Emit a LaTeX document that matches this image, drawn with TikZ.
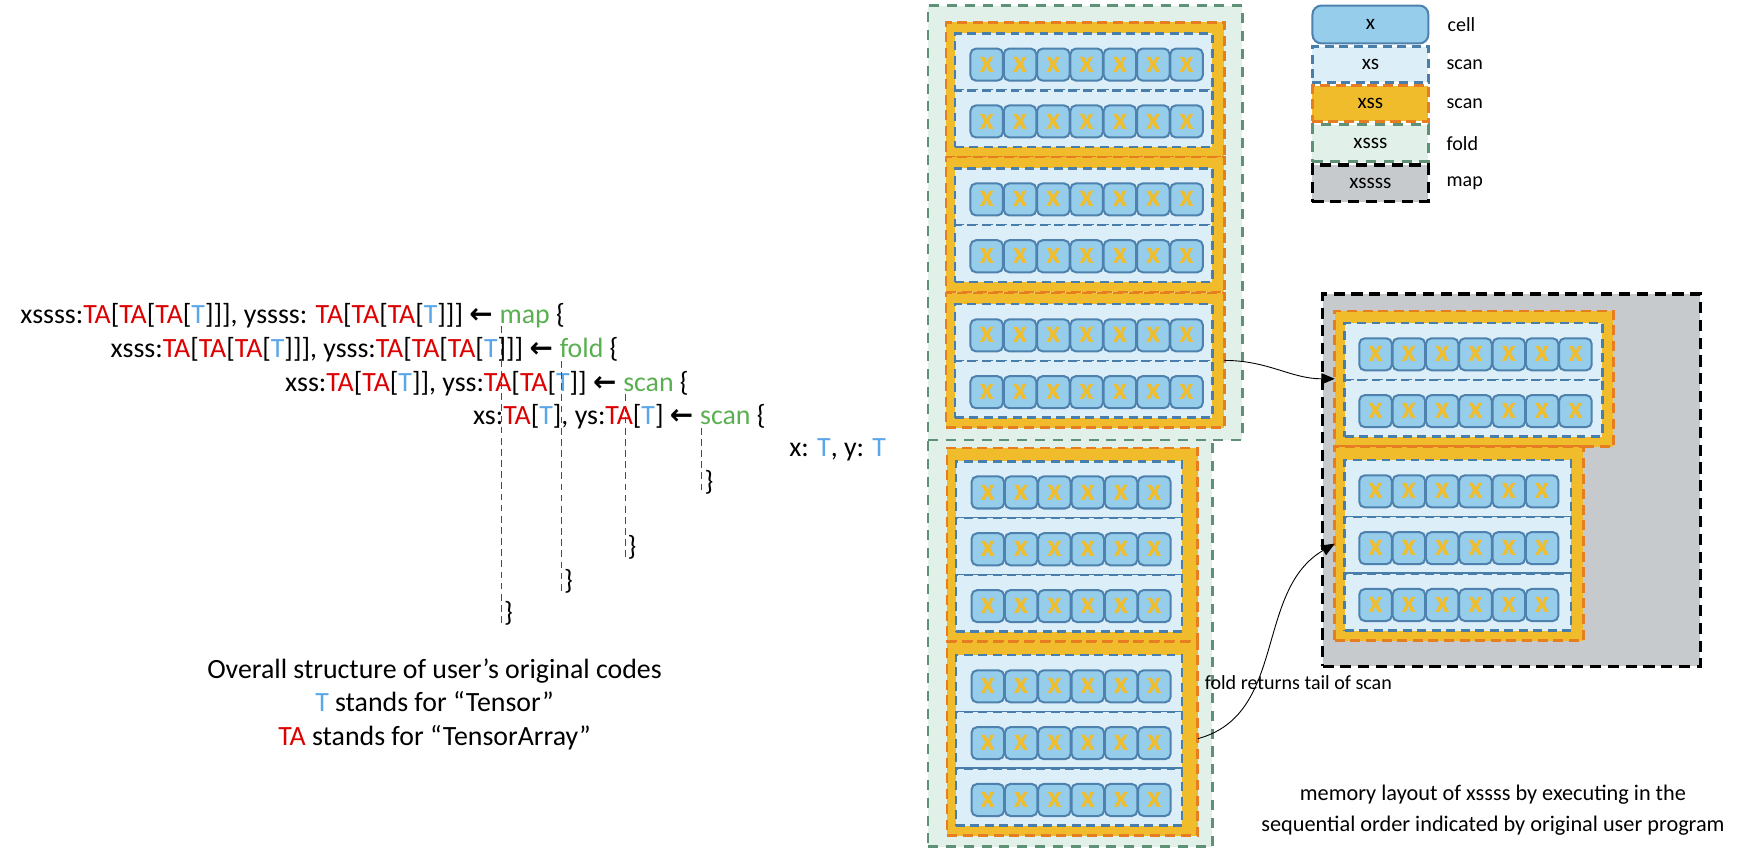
\documentclass[tikz,border=0pt]{standalone}
\usepackage{fontspec}
\setmainfont{Carlito}
\newfontfamily\arrowfont{DejaVu Sans}
\usetikzlibrary{arrows.meta, calc, positioning}

\definecolor{cellfill}{HTML}{95CDEB}
\definecolor{cellline}{HTML}{4E81AD}
\definecolor{xgold}{HTML}{F0BD2D}
\definecolor{xsfill}{HTML}{DCEEF8}
\definecolor{xsline}{HTML}{4A7EAA}
\definecolor{xssfill}{HTML}{F0BC2B}
\definecolor{xssline}{HTML}{E67D21}
\definecolor{foldfill}{HTML}{E1F1EA}
\definecolor{foldline}{HTML}{5E9175}
\definecolor{mapfill}{HTML}{C6CACD}
\definecolor{tared}{HTML}{DD0000}
\definecolor{tblue}{HTML}{5AA6E8}
\definecolor{kwgreen}{HTML}{5AAF50}

\newcommand{\cTA}{\textcolor{tared}{TA}}
\newcommand{\cT}{\textcolor{tblue}{T}}
\newcommand{\kw}[1]{\textcolor{kwgreen}{#1}}
\newcommand{\getsarrow}{{\arrowfont\bfseries ←}}

\begin{document}
\begin{tikzpicture}[x=0.5pt, y=-0.5pt,% one unit = one pixel of the layout
         > = {Triangle[length=6pt, width=5pt]},
codetext/.style = {font=\fontsize{12.5}{15}\selectfont, inner sep=0pt, anchor=base west},
   guide/.style = {densely dashed, thin, black!70},
cellnode/.style = {draw=cellline, fill=cellfill, line width=0.9pt,
                   rounded corners=2.5pt, minimum width=14.6pt, minimum height=14.4pt,
                   inner sep=0pt, text=xgold, font=\bfseries\fontsize{14}{14}\selectfont},
   xsbox/.style = {draw=xsline, fill=xsfill, line width=1.2pt,
                   dash pattern=on 4pt off 2.5pt, inner sep=0pt, outer sep=0pt,
                   anchor=north west},
  xssbox/.style = {draw=xssline, fill=xssfill, line width=1.2pt,
                   dash pattern=on 4.5pt off 2.5pt, inner sep=0pt, outer sep=0pt,
                   anchor=north west},
 foldbox/.style = {draw=foldline, fill=foldfill, line width=1.2pt,
                   dash pattern=on 4.5pt off 3.5pt, inner sep=0pt, outer sep=0pt,
                   anchor=north west},
  mapbox/.style = {draw=black, fill=mapfill, line width=1.5pt,
                   dash pattern=on 5pt off 3pt, inner sep=0pt, outer sep=0pt,
                   anchor=north west},
legendtext/.style = {font=\fontsize{9}{10}\selectfont, inner sep=0pt}
                    ]
	\useasboundingbox (0,0) rectangle (1568,774.6);

	% user program, keyword nodes carry the nesting
	\node[codetext] (kmap)   at (448,290) {\kw{map} \{};
	\node[codetext] (kfold)  at (502,321) {\kw{fold} \{};
	\node[codetext] (kscan)  at (559,351) {\kw{scan} \{};
	\node[codetext] (kscanb) at (628,381) {\kw{scan} \{};
	\node[codetext, anchor=base east] (lmap) at ([xshift=-2.7pt]kmap.base west)
		{xssss:\cTA[\cTA[\cTA[\cT]]], yssss: \cTA[\cTA[\cTA[\cT]]] \getsarrow};
	\node[codetext, anchor=base east] (lfold) at ([xshift=-2.7pt]kfold.base west)
		{xsss:\cTA[\cTA[\cTA[\cT]]], ysss:\cTA[\cTA[\cTA[\cT]]] \getsarrow};
	\node[codetext, anchor=base east] (lscan) at ([xshift=-2.7pt]kscan.base west)
		{xss:\cTA[\cTA[\cT]], yss:\cTA[\cTA[\cT]] \getsarrow};
	\node[codetext, anchor=base east] (lscanb) at ([xshift=-2.7pt]kscanb.base west)
		{xs:\cTA[\cT], ys:\cTA[\cT] \getsarrow};
	\node[codetext] (inner) at (708,410) {x: \cT, y: \cT};

	\node[codetext, xshift=2pt] (bscanb) at (kscanb.base west |- 0,440) {\}};
	\node[codetext, xshift=2pt] (bscan)  at (kscan.base west |- 0,499) {\}};
	\node[codetext, xshift=2pt] (bfold)  at (kfold.base west |- 0,529) {\}};
	\node[codetext, xshift=2pt] (bmap)   at (kmap.base west |- 0,558) {\}};
	\foreach \k/\b in {kmap/bmap, kfold/bfold, kscan/bscan, kscanb/bscanb}
		\draw[guide] ([xshift=1pt, yshift=-1.5pt]\k.base west) -- ([xshift=-1pt]\b.south west);

	\node[align=center, font=\fontsize{12.5}{15}\selectfont] (caption) at (390,632)
		{Overall structure of user’s original codes\\
		 \cT{} stands for “Tensor”\\
		 \cTA{} stands for “TensorArray”};

	% xssss laid out in program order
	\node[foldbox, minimum width=127.5pt, minimum height=183.5pt] (foldb) at (833,393) {};
	\node[foldbox, minimum width=141pt, minimum height=195pt] (folda) at (833,5) {};
	\foreach \t [count=\i] in {20,141,263} {
		\node[xssbox, minimum width=125pt, minimum height=60.5pt] (top\i) at (849,\t) {};
		\foreach \r in {0,1} {
			\node[xsbox, minimum width=115.5pt, minimum height=25.5pt] at (857,\t+10+51*\r) {};
			\foreach \c in {0,...,6}
				\node[cellnode] at (885.6+29.9*\c, \t+38+51*\r) {x};
		}
	}
	\foreach \t [count=\i] in {402,576} {
		\node[xssbox, minimum width=112.5pt, minimum height=87pt] (low\i) at (850,\t) {};
		\foreach \r in {0,1,2} {
			\node[xsbox, minimum width=101.5pt, minimum height=25.5pt] at (858,\t+12+51*\r) {};
			\foreach \c in {0,...,5}
				\node[cellnode] at (886.6+29.9*\c, \t+40+51*\r) {x};
		}
	}

	% memory layout after map
	\node[mapbox, minimum width=169.5pt, minimum height=167pt] (mapall) at (1187,264) {};
	\node[xssbox, minimum width=125pt, minimum height=61pt] (map1) at (1198,279) {};
	\foreach \r in {0,1} {
		\node[xsbox, minimum width=115.5pt, minimum height=25.5pt] at (1207,290+51*\r) {};
		\foreach \c in {0,...,6}
			\node[cellnode] at (1234.6+29.9*\c, 318+51*\r) {x};
	}
	\node[xssbox, minimum width=111.5pt, minimum height=87pt] (map2) at (1198,401) {};
	\foreach \r in {0,1,2} {
		\node[xsbox, minimum width=101.5pt, minimum height=25.5pt] at (1207,413+51*\r) {};
		\foreach \c in {0,...,5}
			\node[cellnode] at (1234.6+29.9*\c, 441+51*\r) {x};
	}

	\draw[->] (top3.east) to[out=0, in=180] (map1.west);
	\draw[->] (low2.east) to[out=15, in=210] (map2.west);
	\node[anchor=west, inner sep=0pt, font=\fontsize{9}{10}\selectfont] (tail) at (1081,613)
		{fold returns tail of scan};
	\node[align=center, font=\fontsize{10}{14}\selectfont] (memtext) at (1340,727)
		{memory layout of xssss by executing in the\\
		 sequential order indicated by original user program};

	% legend
	\node[cellnode, text=black, font=\fontsize{9.5}{10}\selectfont, rounded corners=4pt,
	      minimum width=52pt, minimum height=17pt] (lx) at (1230,22) {x};
	\node[xsbox, anchor=center, font=\fontsize{9.5}{10}\selectfont,
	      minimum width=52pt, minimum height=16pt] (lxs) at (1230,58) {xs};
	\node[xssbox, anchor=center, font=\fontsize{9.5}{10}\selectfont,
	      minimum width=52pt, minimum height=16pt] (lxss) at (1230,93) {xss};
	\node[foldbox, anchor=center, font=\fontsize{9.5}{10}\selectfont,
	      minimum width=52pt, minimum height=16.5pt] (lxsss) at (1230,128.5) {xsss};
	\node[mapbox, anchor=center, font=\fontsize{9.5}{10}\selectfont,
	      minimum width=52pt, minimum height=16.5pt] (lxssss) at (1230,164.5) {xssss};
	\node[legendtext, right=8pt of lx] {cell};
	\node[legendtext, right=8pt of lxs] {scan};
	\node[legendtext, right=8pt of lxss] {scan};
	\node[legendtext, right=8pt of lxsss] {fold};
	\node[legendtext, right=8pt of lxssss] {map};
\end{tikzpicture}
\end{document}
